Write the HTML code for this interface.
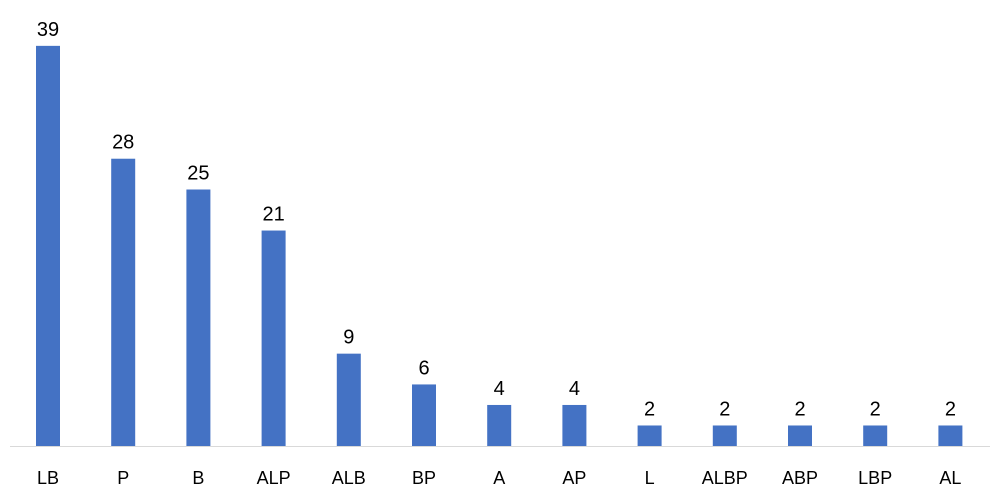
<!DOCTYPE html>
<html><head><meta charset="utf-8"><style>
html,body{margin:0;padding:0;background:#fff;}
svg{display:block;font-family:"Liberation Sans",Calibri,sans-serif;}
</style></head><body>
<svg id="chart" width="1000" height="490" viewBox="0 0 1000 490"></svg>
<script>
const categories=["LB","P","B","ALP","ALB","BP","A","AP","L","ALBP","ABP","LBP","AL"];
const values=[39,28,25,21,9,6,4,4,2,2,2,2,2];
const svg=document.getElementById('chart');
const NS='http://www.w3.org/2000/svg';
const baseY=446, pxPerUnit=10.26, x0=48, step=75.2, barW=24;
function yScale(v){return baseY-v*pxPerUnit;}
function xScale(i){return x0+i*step;}
const axis=document.createElementNS(NS,'line');


axis.setAttribute('x1',10);axis.setAttribute('x2',990);
axis.setAttribute('y1',baseY+0.5);axis.setAttribute('y2',baseY+0.5);
axis.setAttribute('stroke','#d9d9d9');axis.setAttribute('stroke-width','1');
svg.appendChild(axis);
categories.forEach((c,i)=>{
  const cx=xScale(i), top=yScale(values[i]);
  const r=document.createElementNS(NS,'rect');
  
  
  r.setAttribute('x',cx-barW/2);r.setAttribute('y',top);
  r.setAttribute('width',barW);r.setAttribute('height',baseY-top);
  r.setAttribute('fill','#4472c4');
  svg.appendChild(r);
  const t=document.createElementNS(NS,'text');
  
  
  t.setAttribute('x',cx);t.setAttribute('y',top-10);
  t.setAttribute('text-anchor','middle');t.setAttribute('font-size','20');
  t.setAttribute('fill','#000');
  t.textContent=values[i];
  svg.appendChild(t);
  const l=document.createElementNS(NS,'text');
  
  
  l.setAttribute('x',cx);l.setAttribute('y',484);
  l.setAttribute('text-anchor','middle');l.setAttribute('font-size','18');
  l.setAttribute('fill','#000');
  l.textContent=c;
  svg.appendChild(l);
});
</script>
</body></html>
